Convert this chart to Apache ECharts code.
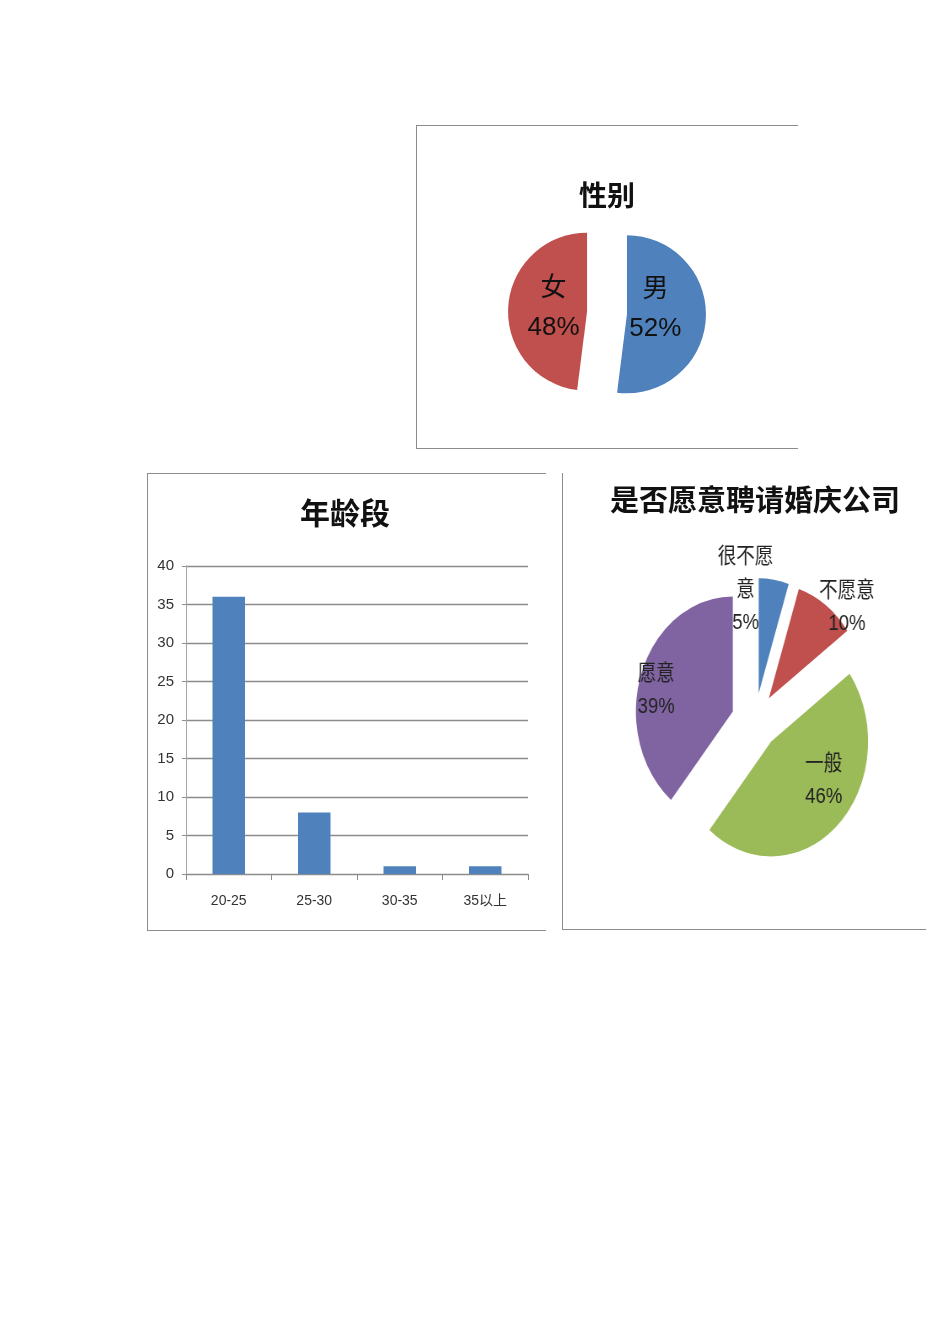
<!DOCTYPE html>
<html><head><meta charset="utf-8">
<script src="https://cdn.jsdelivr.net/npm/echarts@6/dist/echarts.min.js"></script>
<style>
html,body{margin:0;padding:0;background:#fff;}
#page{position:absolute;left:0;top:0;width:950px;height:1344px;}
#pie3{position:absolute;left:575px;top:541px;width:360px;height:360px;transform:scaleX(0.843);transform-origin:50% 50%;}
.frame{position:absolute;pointer-events:none;border-color:#8c8c8c;border-style:solid;border-width:0;}
</style></head><body>
<div id="page"></div>
<div id="pie3"></div>
<div class="frame" style="left:416px;top:125px;width:381px;height:322px;border-top-width:1px;border-left-width:1px;border-bottom-width:1px;"></div>
<div class="frame" style="left:147px;top:473px;width:398px;height:456px;border-top-width:1px;border-left-width:1px;border-bottom-width:1px;"></div>
<div class="frame" style="left:562px;top:473px;width:363px;height:456px;border-left-width:1px;border-bottom-width:1px;"></div>
<script>
// ---- data ----
const genderTitle = '性别';
const genderNames = ['男', '女'];
const genderValues = [52, 48];

const ageTitle = '年龄段';
const ageCategories = ['20-25', '25-30', '30-35', '35以上'];
const ageCounts = [36, 8, 1, 1];
const ageAxisMin = 0, ageAxisMax = 40, ageAxisStep = 5;

const willingTitle = '是否愿意聘请婚庆公司';
const willingNames = ['很不愿意', '不愿意', '一般', '愿意'];
const willingValues = [5, 10, 46, 39];

// ---- styling ----
const CJK = '"Noto Sans CJK SC", "Liberation Sans", sans-serif';
const LAT = '"Liberation Sans", "Noto Sans CJK SC", sans-serif';
const genderColors = ['#4F81BD', '#C0504D'];
const willingColors = ['#4F81BD', '#C0504D', '#9BBB59', '#8064A2'];
const genderLabelShift = [[-14, -8], [9, -1]];
const willingLabelShift = [[-25, -44], [57, -42], [21, -5], [-34, -1]];

function titleAt(text, x, y, size) {
  return { text: text, left: x, top: y, padding: 0, textAlign: 'center', textVerticalAlign: 'middle',
    textStyle: { fontSize: size, fontWeight: 'bold', color: '#111', fontFamily: CJK } };
}

const page = echarts.init(document.getElementById('page'), null, { renderer: 'canvas' });
page.setOption({
  animation: false,
  backgroundColor: 'transparent',
  title: [
    titleAt(genderTitle, 607, 195, 28),
    titleAt(ageTitle, 345, 513, 30),
    titleAt(willingTitle, 755, 500, 29)
  ],
  grid: { left: 186, top: 566, width: 342, height: 308, containLabel: false },
  xAxis: {
    type: 'category', data: ageCategories, boundaryGap: true,
    axisLine: { show: true, lineStyle: { color: '#8c8c8c', width: 1 } },
    axisTick: { show: true, length: 6, alignWithLabel: false, lineStyle: { color: '#8c8c8c' } },
    axisLabel: { fontSize: 14, color: '#333', margin: 20, fontFamily: LAT },
    splitLine: { show: false }
  },
  yAxis: {
    type: 'value', min: ageAxisMin, max: ageAxisMax, interval: ageAxisStep,
    axisLine: { show: true, lineStyle: { color: '#a6a6a6', width: 1 } },
    axisTick: { show: true, length: 4, lineStyle: { color: '#8c8c8c' } },
    axisLabel: { fontSize: 15, color: '#333', margin: 12, fontFamily: LAT },
    splitLine: { show: true, lineStyle: { color: '#8c8c8c', width: 1.3 } }
  },
  series: [
    {
      type: 'bar', data: ageCounts, barWidth: '38%',
      itemStyle: { color: '#4F81BD' }
    },
    {
      type: 'pie', center: [607, 313], radius: 79, startAngle: 90, clockwise: true,
      selectedMode: 'multiple', selectedOffset: 20, percentPrecision: 0,
      label: { show: true, position: 'inside', formatter: '{b}\n{d}%', fontSize: 26, lineHeight: 39,
        color: '#111', fontFamily: LAT },
      labelLine: { show: false },
      labelLayout: function (p) {
        return { dx: genderLabelShift[p.dataIndex][0], dy: genderLabelShift[p.dataIndex][1] };
      },
      emphasis: { disabled: true },
      data: genderNames.map((n, i) => ({
        name: n, value: genderValues[i], selected: true,
        itemStyle: { color: genderColors[i] }
      }))
    }
  ]
});

const pie3 = echarts.init(document.getElementById('pie3'), null, { renderer: 'canvas' });
pie3.setOption({
  animation: false,
  backgroundColor: 'transparent',
  series: [{
    type: 'pie', center: ['50%', '50%'], radius: 115, startAngle: 90, clockwise: true,
    selectedMode: 'multiple', selectedOffset: 28, percentPrecision: 0,
    label: { show: true, position: 'inside', formatter: '{b}\n{d}%', fontSize: 22, lineHeight: 33,
      color: '#222', fontFamily: LAT, width: 70, overflow: 'break' },
    labelLine: { show: false },
    labelLayout: function (p) {
      return { dx: willingLabelShift[p.dataIndex][0], dy: willingLabelShift[p.dataIndex][1] };
    },
    emphasis: { disabled: true },
    data: willingNames.map((n, i) => ({
      name: n, value: willingValues[i], selected: true,
      itemStyle: { color: willingColors[i] }
    }))
  }]
});
</script>
</body></html>
